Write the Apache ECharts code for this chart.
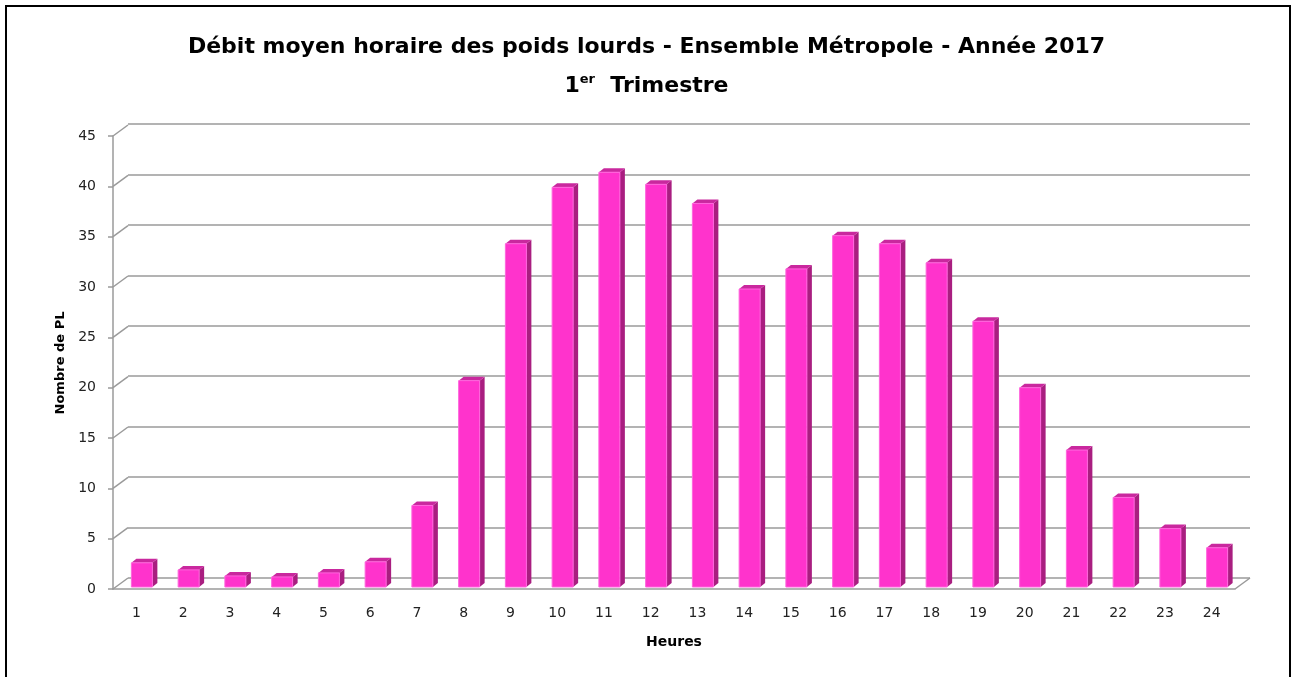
<!DOCTYPE html>
<html>
<head>
<meta charset="utf-8">
<script src="https://cdn.jsdelivr.net/npm/echarts@6/dist/echarts.min.js"></script>
<style>
html, body { margin: 0; padding: 0; background: #fff; }
#chart { width: 1293px; height: 677px; }
</style>
</head>
<body>
<div id="chart"></div>
<script>
// data
var hours = ['1', '2', '3', '4', '5', '6', '7', '8', '9', '10', '11', '12',
    '13', '14', '15', '16', '17', '18', '19', '20', '21', '22', '23', '24'];
var nbPL = [2.4, 1.7, 1.1, 1.0, 1.4, 2.5, 8.1, 20.5, 34.1, 39.7, 41.2, 40.0,
    38.1, 29.6, 31.6, 34.9, 34.1, 32.2, 26.4, 19.8, 13.6, 8.9, 5.8, 3.9];
var yTicks = [0, 5, 10, 15, 20, 25, 30, 35, 40, 45];

// 3d look
var DX = 15, DY = -11;      // depth of the back wall
var BDX = 5, BDY = -4;      // depth of a bar
var gridColor = '#9a9a9a';
var labelFont = 'DejaVu Sans';

var chart = echarts.init(document.getElementById('chart'));

function renderBar(params, api) {
    var i = api.value(0);
    var v = api.value(1);
    var base = api.coord([i, 0]);
    var top = api.coord([i, v]);
    var left = base[0] - 5;
    var right = base[0] + 16;
    var yb = base[1] - 2;
    var yt = top[1] - 2;
    return {
        type: 'group',
        children: [
            {
                type: 'polygon',
                shape: { points: [[right, yt], [right + BDX, yt + BDY], [right + BDX, yb + BDY], [right, yb]] },
                style: { fill: '#a91e80' }
            },
            {
                type: 'polygon',
                shape: { points: [[left, yt], [left + BDX, yt + BDY], [right + BDX, yt + BDY], [right, yt]] },
                style: { fill: '#c9289e' }
            },
            {
                type: 'rect',
                shape: { x: left, y: yt, width: right - left, height: yb - yt },
                style: { fill: '#ff33cc', stroke: '#ff66dd', lineWidth: 1 }
            }
        ]
    };
}

function renderWall(params, api) {
    var v = api.value(0);
    var cs = params.coordSys;
    var p = api.coord([0, v]);
    var x0 = cs.x;
    var children = [{
        type: 'line',
        shape: { x1: x0, y1: p[1], x2: x0 + DX, y2: p[1] + DY },
        style: { stroke: gridColor, lineWidth: 1.5 }
    }];
    if (v === 0) {
        children.push({
            type: 'line',
            shape: { x1: x0 + cs.width, y1: p[1], x2: x0 + cs.width + DX, y2: p[1] + DY },
            style: { stroke: gridColor, lineWidth: 1.5 }
        });
    }
    return { type: 'group', children: children };
}

chart.setOption({
    animation: false,
    backgroundColor: '#fff',
    title: [
        {
            text: 'Débit moyen horaire des poids lourds - Ensemble Métropole - Année 2017',
            left: 'center',
            top: 31,
            textStyle: { fontFamily: 'DejaVu Sans', fontWeight: 'bold', fontSize: 22, color: '#000' }
        },
        {
            text: '{n|1}{s|er}{n|  Trimestre}',
            left: 'center',
            top: 68,
            textStyle: {
                rich: {
                    n: { fontFamily: 'DejaVu Sans', fontWeight: 'bold', fontSize: 22, color: '#000', verticalAlign: 'bottom' },
                    s: { fontFamily: 'DejaVu Sans', fontWeight: 'bold', fontSize: 13, color: '#000', verticalAlign: 'top', padding: [0, 0, 11, 0] }
                }
            }
        }
    ],
    graphic: [
        {
            type: 'rect',
            shape: { x: 6, y: 6, width: 1284, height: 690 },
            style: { fill: 'none', stroke: '#000', lineWidth: 2 },
            silent: true,
            z: 10
        },
        {
            type: 'text',
            x: 61, y: 363,
            rotation: Math.PI / 2,
            style: {
                text: 'Nombre de PL',
                font: 'bold 13px "DejaVu Sans"',
                fill: '#000',
                textAlign: 'center',
                textVerticalAlign: 'middle'
            }
        },
        {
            type: 'text',
            x: 674, y: 642,
            style: {
                text: 'Heures',
                font: 'bold 14px "DejaVu Sans"',
                fill: '#000',
                textAlign: 'center',
                textVerticalAlign: 'middle'
            }
        }
    ],
    grid: [
        { left: 113, right: 58, top: 136, bottom: 88 },
        { left: 128, right: 43, top: 124, bottom: 99 }
    ],
    xAxis: [
        {
            type: 'category',
            gridIndex: 0,
            data: hours,
            axisLine: { lineStyle: { color: gridColor, width: 1.5 } },
            axisTick: { length: 5, lineStyle: { color: gridColor, width: 1.5 } },
            axisLabel: { color: '#222', fontFamily: labelFont, fontSize: 14, margin: 17 }
        },
        {
            type: 'category',
            gridIndex: 1,
            data: hours,
            show: false
        }
    ],
    yAxis: [
        {
            type: 'value',
            gridIndex: 0,
            min: 0,
            max: 45,
            interval: 5,
            axisLine: { show: true, lineStyle: { color: gridColor, width: 1.5 } },
            axisTick: { show: true, length: 5, lineStyle: { color: gridColor, width: 1.5 } },
            axisLabel: { color: '#222', fontFamily: labelFont, fontSize: 14, margin: 17 },
            splitLine: { show: false }
        },
        {
            type: 'value',
            gridIndex: 1,
            min: 0,
            max: 45,
            interval: 5,
            axisLine: { show: false },
            axisTick: { show: false },
            axisLabel: { show: false },
            splitLine: { show: true, lineStyle: { color: gridColor, width: 1.5 } }
        }
    ],
    series: [
        {
            type: 'custom',
            name: 'wall',
            xAxisIndex: 0,
            yAxisIndex: 0,
            data: yTicks.map(function (t) { return [t]; }),
            encode: { y: 0 },
            renderItem: renderWall,
            silent: true,
            z: 1
        },
        {
            type: 'custom',
            name: 'Nombre de PL',
            xAxisIndex: 0,
            yAxisIndex: 0,
            data: nbPL.map(function (v, i) { return [i, v]; }),
            encode: { x: 0, y: 1 },
            renderItem: renderBar,
            z: 5
        }
    ]
});
</script>
</body>
</html>
